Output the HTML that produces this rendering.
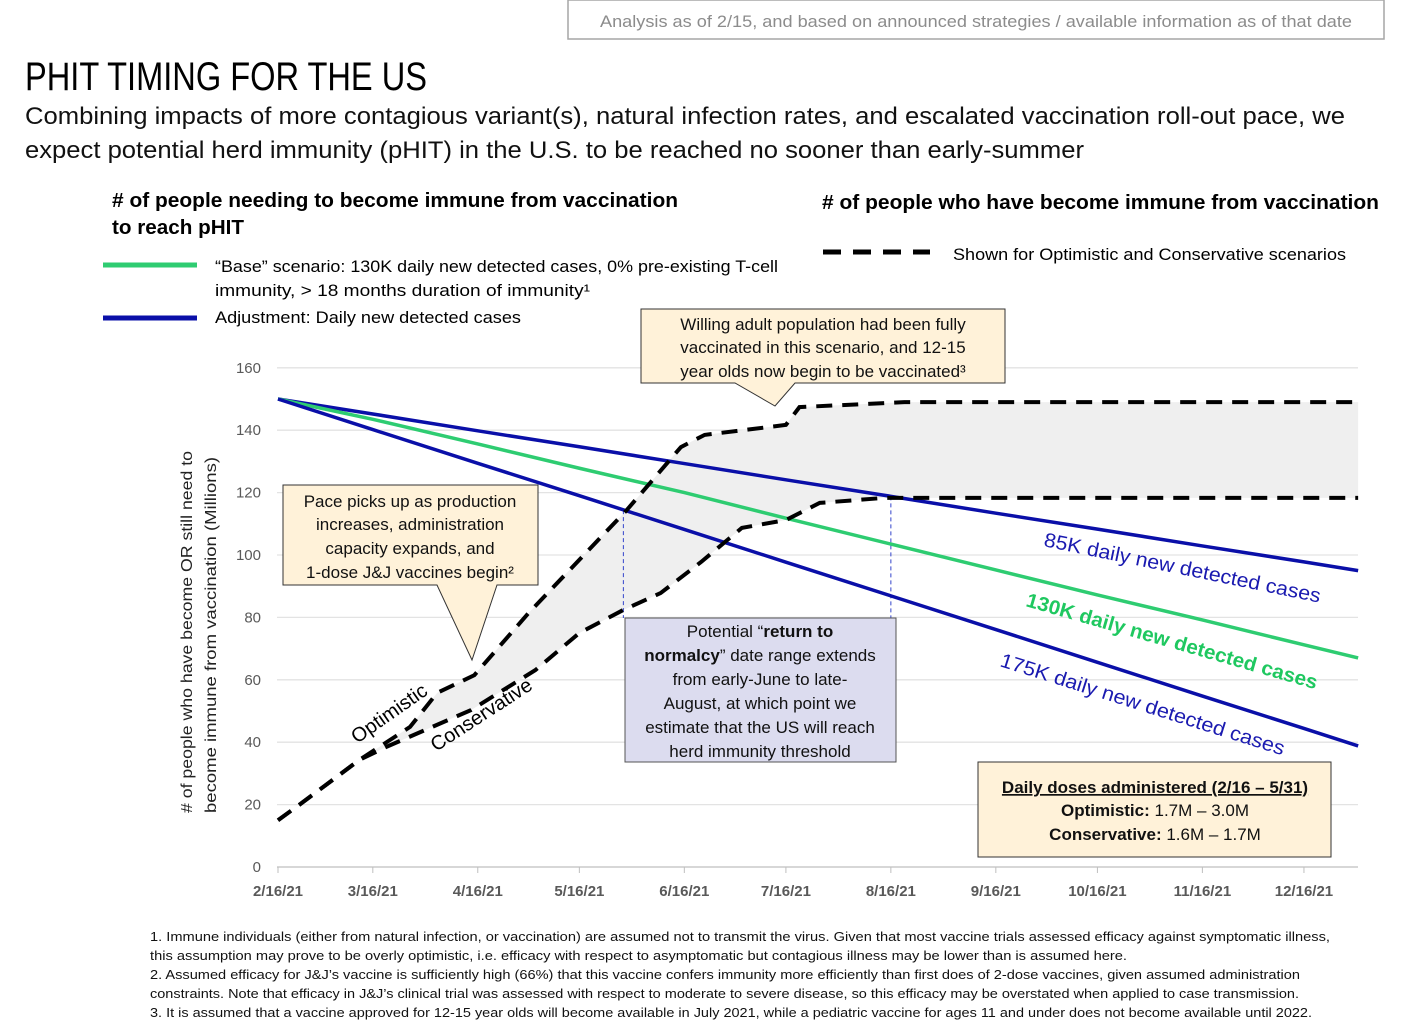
<!DOCTYPE html>
<html><head><meta charset="utf-8"><style>
body{margin:0;background:#fff}
svg{display:block;font-family:"Liberation Sans",sans-serif}
</style></head><body>
<svg id="s" width="1404" height="1032" viewBox="0 0 1404 1032">
<rect x="568" y="0" width="816" height="39" fill="#fff" stroke="#a6a6a6" stroke-width="1.5"/>
<text x="976" y="27" font-size="17" fill="#8c8c8c" text-anchor="middle" textLength="752" lengthAdjust="spacingAndGlyphs">Analysis as of 2/15, and based on announced strategies / available information as of that date</text>
<text x="25" y="90" font-size="40" fill="#000" textLength="402" lengthAdjust="spacingAndGlyphs">PHIT TIMING FOR THE US</text>
<text x="25" y="124" font-size="24" fill="#111" textLength="1320" lengthAdjust="spacingAndGlyphs">Combining impacts of more contagious variant(s), natural infection rates, and escalated vaccination roll-out pace, we</text>
<text x="25" y="158" font-size="24" fill="#111" textLength="1059" lengthAdjust="spacingAndGlyphs">expect potential herd immunity (pHIT) in the U.S. to be reached no sooner than early-summer</text>
<text x="112" y="207" font-size="20" font-weight="bold" textLength="566" lengthAdjust="spacingAndGlyphs"># of people needing to become immune from vaccination</text>
<text x="112" y="234" font-size="20" font-weight="bold" textLength="132" lengthAdjust="spacingAndGlyphs">to reach pHIT</text>
<text x="822" y="209" font-size="20" font-weight="bold" textLength="557" lengthAdjust="spacingAndGlyphs"># of people who have become immune from vaccination</text>
<line x1="103" y1="265" x2="197" y2="265" stroke="#2ecc71" stroke-width="5"/>
<text x="215" y="272" font-size="17" textLength="563" lengthAdjust="spacingAndGlyphs">“Base” scenario: 130K daily new detected cases, 0% pre-existing T-cell</text>
<text x="215" y="296" font-size="17" textLength="375" lengthAdjust="spacingAndGlyphs">immunity,  &gt; 18 months duration of immunity¹</text>
<line x1="103" y1="318" x2="197" y2="318" stroke="#0a0fa8" stroke-width="5"/>
<text x="215" y="323" font-size="17" textLength="306" lengthAdjust="spacingAndGlyphs">Adjustment: Daily new detected cases</text>
<line x1="823" y1="252" x2="930" y2="252" stroke="#000" stroke-width="5" stroke-dasharray="18,12"/>
<text x="953" y="260" font-size="17" textLength="393" lengthAdjust="spacingAndGlyphs">Shown for Optimistic and Conservative scenarios</text>
<g id="grid"></g>
<g id="marks"></g>
<g>
<text transform="translate(192,632) rotate(-90)" font-size="16" text-anchor="middle" fill="#222" textLength="362" lengthAdjust="spacingAndGlyphs"># of people who have become OR still need to</text>
<text transform="translate(216,635) rotate(-90)" font-size="16" text-anchor="middle" fill="#222" textLength="356" lengthAdjust="spacingAndGlyphs">become immune from vaccination (Millions)</text>
</g>
<path d="M641,309 H1005 V383 H795 L775,406 L735,383 H641 Z" fill="#fff2d9" stroke="#333" stroke-width="1"/>
<g font-size="17" text-anchor="middle" fill="#111">
<text x="823" y="330">Willing adult population had been fully</text>
<text x="823" y="353">vaccinated in this scenario, and 12-15</text>
<text x="823" y="377">year olds now begin to be vaccinated³</text></g>
<path d="M283,485 H538 V585 H497 L472,660 L437,585 H283 Z" fill="#fff2d9" stroke="#333" stroke-width="1"/>
<g font-size="17" text-anchor="middle" fill="#111">
<text x="410" y="507">Pace picks up as production</text>
<text x="410" y="530">increases, administration</text>
<text x="410" y="554">capacity expands, and</text>
<text x="410" y="578">1-dose J&amp;J vaccines begin²</text></g>
<rect x="625" y="618" width="271" height="144" fill="#dcdcef" stroke="#555" stroke-width="1"/>
<g font-size="17" text-anchor="middle" fill="#111">
<text x="760" y="637">Potential “<tspan font-weight="bold">return to</tspan></text>
<text x="760" y="661"><tspan font-weight="bold">normalcy</tspan>” date range extends</text>
<text x="760" y="685">from early-June to late-</text>
<text x="760" y="709">August, at which point we</text>
<text x="760" y="733">estimate that the US will reach</text>
<text x="760" y="757">herd immunity threshold</text></g>
<rect x="978" y="762" width="353" height="95" fill="#fff2d9" stroke="#333" stroke-width="1"/>
<g font-size="17" text-anchor="middle" fill="#111">
<text x="1155" y="793" font-weight="bold" text-decoration="underline">Daily doses administered (2/16 – 5/31)</text>
<text x="1155" y="816"><tspan font-weight="bold">Optimistic:</tspan> 1.7M – 3.0M</text>
<text x="1155" y="840"><tspan font-weight="bold">Conservative:</tspan> 1.6M – 1.7M</text></g>
<text transform="translate(1043,546) rotate(11.6)" font-size="20" fill="#1a1ab0" textLength="282" lengthAdjust="spacingAndGlyphs">85K daily new detected cases</text>
<text transform="translate(1025,606) rotate(16)" font-size="20" font-weight="bold" fill="#1fc860" textLength="302" lengthAdjust="spacingAndGlyphs">130K daily new detected cases</text>
<text transform="translate(999,666) rotate(17.5)" font-size="20" fill="#1a1ab0" textLength="297" lengthAdjust="spacingAndGlyphs">175K daily new detected cases</text>
<text transform="translate(357,744) rotate(-35)" font-size="20" fill="#000">Optimistic</text>
<text transform="translate(436,752) rotate(-33)" font-size="20" fill="#000">Conservative</text>
<g font-size="13" fill="#111">
<text x="150" y="941" textLength="1180" lengthAdjust="spacingAndGlyphs">1. Immune individuals (either from natural infection, or vaccination) are assumed not to transmit the virus. Given that most vaccine trials assessed efficacy against symptomatic illness,</text>
<text x="150" y="960" textLength="977" lengthAdjust="spacingAndGlyphs">this assumption may prove to be overly optimistic, i.e. efficacy with respect to asymptomatic but contagious illness may be lower than is assumed here.</text>
<text x="150" y="979" textLength="1150" lengthAdjust="spacingAndGlyphs">2. Assumed efficacy for J&amp;J’s vaccine is sufficiently high (66%) that this vaccine confers immunity more efficiently than first does of 2-dose vaccines, given assumed administration</text>
<text x="150" y="998" textLength="1149" lengthAdjust="spacingAndGlyphs">constraints. Note that efficacy in J&amp;J’s clinical trial was assessed with respect to moderate to severe disease, so this efficacy may be overstated when applied to case transmission.</text>
<text x="150" y="1017" textLength="1162" lengthAdjust="spacingAndGlyphs">3. It is assumed that a vaccine approved for 12-15 year olds will become available in July 2021, while a pediatric vaccine for ages 11 and under does not become available until 2022.</text>
</g>
</svg>
<script>
const tickLabels = ["2/16/21","3/16/21","4/16/21","5/16/21","6/16/21","7/16/21","8/16/21","9/16/21","10/16/21","11/16/21","12/16/21"];
const tickDays = [0,28,59,89,120,150,181,212,242,273,303];
const yTicks = [0,20,40,60,80,100,120,140,160];
const lineDays = [0,28,59,89,120,150,181,212,242,273,303,319];
const cases85k = [150,145.2,139.8,134.7,129.3,124.1,118.8,113.4,108.3,102.9,97.8,95];
const cases130k = [150,143.5,135.6,127.8,120,111.8,103.5,95.2,87.2,79.2,71.2,67];
const cases175k = [150,140.2,129.4,119,108.2,97.7,86.9,76.1,65.6,54.8,44.4,38.8];
const optDays = [0,7,24,39,47,58,74,103,119,126,150,154,185,319];
const optVals = [15,20.5,34.3,44.9,55.8,61.5,81.4,114.4,134.6,138.5,141.7,147.4,149,149];
const conDays = [0,7,24,32,57,76,89,102,113,125,137,150,160,179,319];
const conVals = [15,20.5,34.3,38.5,50.3,63.1,75,82.4,87.8,97.8,108.7,111.2,116.7,118.3,118.3];
const rangeDays = [102,181];

const NS="http://www.w3.org/2000/svg";
const X=d=>278+d*3.386;
const Y=v=>867-v*3.12;
function mk(tag,attrs,parent){const e=document.createElementNS(NS,tag);for(const k in attrs)e.setAttribute(k,attrs[k]);parent.appendChild(e);return e;}
const grid=document.getElementById('grid'), marks=document.getElementById('marks');
yTicks.forEach(v=>{
  const l=mk('line',{x1:277,x2:1358,y1:Y(v),y2:Y(v),stroke:v===0?'#bfbfbf':'#e3e3e3','stroke-width':1.3},grid);
  
  
  const t=mk('text',{x:261,y:Y(v)+5,'font-size':15,fill:'#595959','text-anchor':'end'},grid);
  t.textContent=v;
  
  
});
tickDays.forEach((d,i)=>{
  const tk=mk('line',{x1:X(d),x2:X(d),y1:867,y2:873,stroke:'#bfbfbf'},grid);
  
  
  const t=mk('text',{x:X(d),y:896,'font-size':15,'font-weight':'bold',fill:'#595959','text-anchor':'middle'},grid);
  t.textContent=tickLabels[i];
  
  
});
const pts=(ds,vs)=>ds.map((d,i)=>X(d)+','+Y(vs[i]));
const fill=mk('polygon',{points:pts(optDays,optVals).concat(pts(conDays,conVals).reverse()).join(' '),fill:'#efefef'},marks);


rangeDays.forEach((d,i)=>{
  const top=i===0?Y(optVals[7]):Y(cases85k[6]);
  const l=mk('line',{x1:X(d),x2:X(d),y1:top,y2:618,stroke:'#3344cc','stroke-width':1,'stroke-dasharray':'4,3'},marks);
  
  
});
[[cases85k,'#0a0fa8','line-85k'],[cases130k,'#2ecc71','line-130k'],[cases175k,'#0a0fa8','line-175k']].forEach(([vs,c,n])=>{
  const p=mk('polyline',{points:pts(lineDays,vs).join(' '),fill:'none',stroke:c,'stroke-width':3.5},marks);
  
  
});
[[optDays,optVals,'line-optimistic'],[conDays,conVals,'line-conservative']].forEach(([ds,vs,n])=>{
  const p=mk('polyline',{points:pts(ds,vs).join(' '),fill:'none',stroke:'#000','stroke-width':4,'stroke-dasharray':'16,10'},marks);
  
  
});
</script>
</body></html>
